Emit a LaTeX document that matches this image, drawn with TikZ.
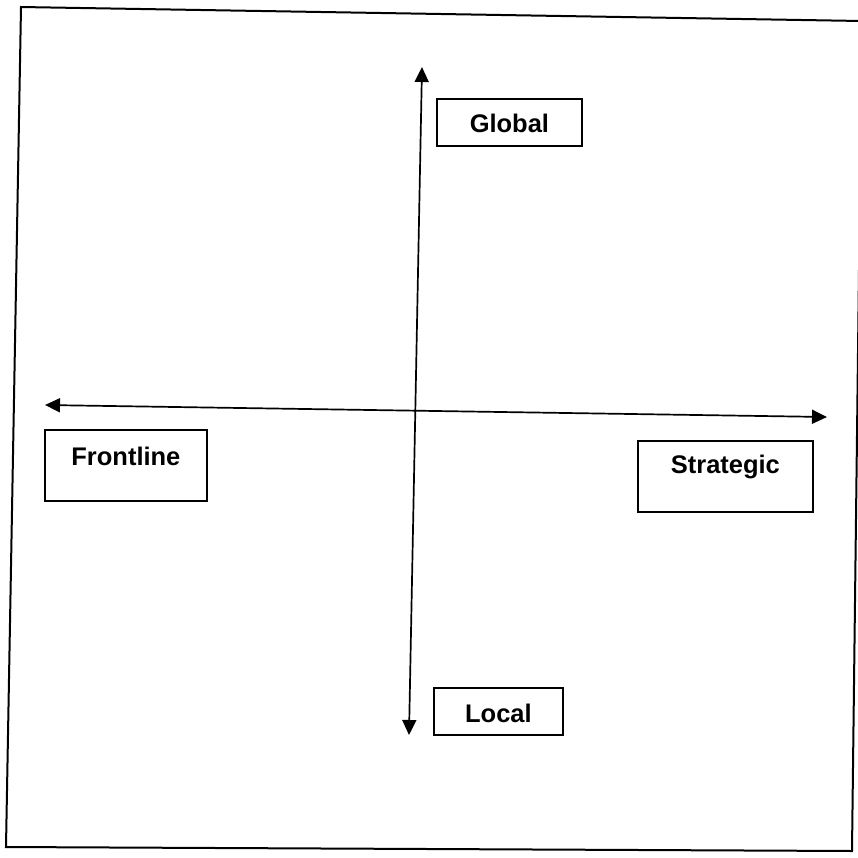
\documentclass[tikz,border=0pt]{standalone}
\usepackage{fontspec}
\setmainfont{Liberation Sans}
\usetikzlibrary{arrows.meta}
\begin{document}
\begin{tikzpicture}[
            axisline/.style={line width=0.034cm, {Triangle[length=0.30cm,width=0.28cm]}-{Triangle[length=0.30cm,width=0.28cm]}},
            labelbox/.style={draw, line width=0.036cm, inner sep=0pt, anchor=north west,
              font=\fontsize{14.5}{16}\selectfont\bfseries}
            ]
            \useasboundingbox (0.000000,0.000000) rectangle (17.160000,-17.160000);
            
            % Drawing the outer frame
            \draw [line width=0.040cm] (0.420000,-0.140000) -- (17.240000,-0.420000) -- (17.040000,-17.020000) -- (0.120000,-16.940000) -- cycle;%
            
            % Ends of the two axes
            \coordinate (globalend) at (8.440000,-1.340000);%
            \coordinate (localend) at (8.180000,-14.700000);%
            \coordinate (frontend) at (0.900000,-8.100000);%
            \coordinate (strategend) at (16.540000,-8.340000);%
            
            % Drawing axis Local Global
            \draw [axisline] (localend) -- (globalend);%
            
            % Drawing axis Frontline Strategic
            \draw [axisline] (frontend) -- (strategend);%
            
            % Labelling the ends by boxes
            \node [labelbox, minimum width=2.900000cm, text height=0.680000cm, text depth=0.260000cm] (global) at (8.720000,-1.960000) {Global};%
            \node [labelbox, minimum width=2.580000cm, text height=0.700000cm, text depth=0.240000cm] (local) at (8.660000,-13.740000) {Local};%
            \node [labelbox, minimum width=3.240000cm, text height=0.720000cm, text depth=0.700000cm] (frontline) at (0.880000,-8.580000) {Frontline};%
            \node [labelbox, minimum width=3.500000cm, text height=0.660000cm, text depth=0.760000cm] (strategic) at (12.740000,-8.800000) {Strategic};%
        \end{tikzpicture}
\end{document}
